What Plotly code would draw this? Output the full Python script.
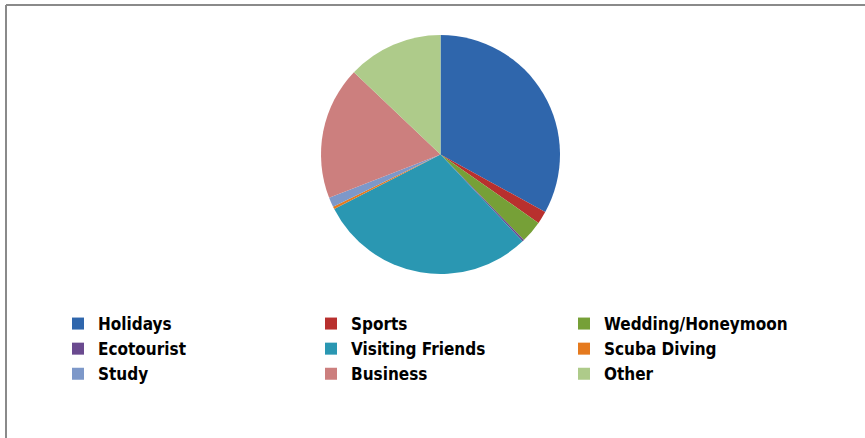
import plotly.graph_objects as go

W, H = 865, 438

labels = ["Holidays", "Sports", "Wedding/Honeymoon", "Ecotourist", "Visiting Friends",
          "Scuba Diving", "Study", "Business", "Other"]
values = [33.0, 1.7, 3.0, 0.25, 29.5, 0.35, 1.3, 18.0, 12.9]
colors = ["#2F66AC", "#B8302E", "#76A037", "#6A4A8F", "#2A97B2",
          "#E57A1E", "#7D98C9", "#CC7F7E", "#AECB8A"]

cx, cy, r = 440.5, 154.5, 119.5

fig = go.Figure(go.Pie(
    labels=labels, values=values, sort=False, direction="clockwise", rotation=0,
    marker=dict(colors=colors, line=dict(width=0)),
    textinfo="none", hoverinfo="label+percent",
    domain=dict(x=[(cx - r) / W, (cx + r) / W], y=[1 - (cy + r) / H, 1 - (cy - r) / H]),
))

fig.update_layout(
    width=W, height=H, margin=dict(l=0, r=0, t=0, b=0),
    paper_bgcolor="white", plot_bgcolor="white",
    showlegend=True,
    legend=dict(orientation="h", x=58 / W, xanchor="left", y=1 - 306 / H, yanchor="top",
                entrywidth=208, entrywidthmode="pixels", traceorder="normal",
                font=dict(family="DejaVu Sans Condensed, Liberation Sans Narrow, sans-serif",
                          size=17, color="#000000", weight="bold"),
                itemwidth=30, tracegroupgap=0),
    shapes=[
        dict(type="line", xref="paper", yref="paper", x0=6 / W, x1=1.01, y0=1 - 5 / H, y1=1 - 5 / H,
             line=dict(color="#8a8a8a", width=2)),
        dict(type="line", xref="paper", yref="paper", x0=6 / W, x1=6 / W, y0=1 - 5 / H, y1=-0.01,
             line=dict(color="#8a8a8a", width=2)),
    ],
)

fig.write_html("out.html")
